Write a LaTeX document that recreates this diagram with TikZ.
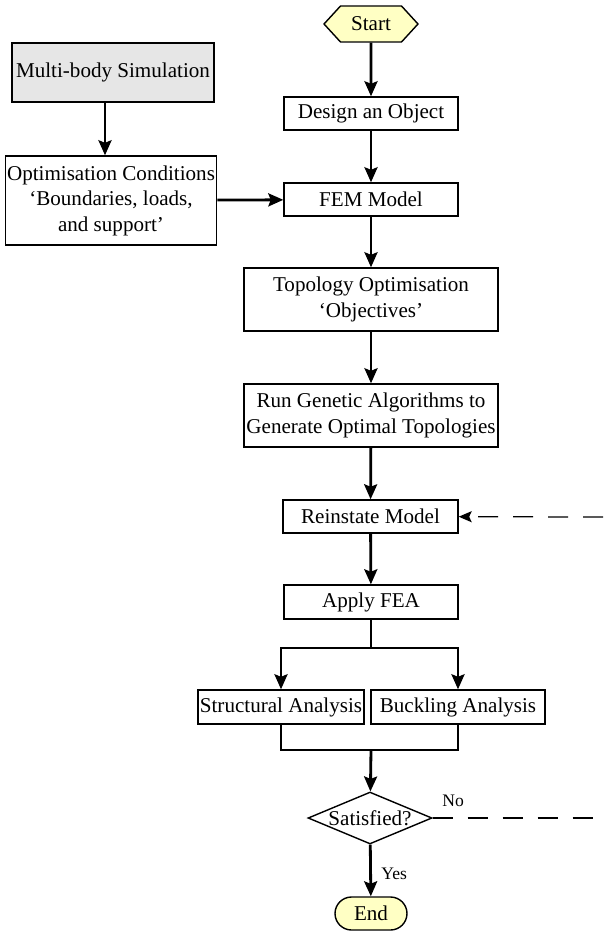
\documentclass[tikz,border=0pt]{standalone}
\usepackage{fontspec}
\setmainfont{Liberation Serif}
\usetikzlibrary{arrows.meta,shapes.geometric,shapes.symbols}

\definecolor{termfill}{RGB}{255,255,196}
\definecolor{simfill}{RGB}{230,230,230}

\tikzset{
  stepbox/.style={draw, line width=.8pt, inner sep=1pt, align=center,
    font=\fontsize{12}{14.5}\selectfont},
  flow/.style={->, line width=1.6pt},
  loopback/.style={line width=.7pt, dash pattern=on .4cm off .3cm},
}

\begin{document}
\begin{tikzpicture}[x=.02cm, y=-.02cm, >={Stealth[length=.3cm,width=.26cm,inset=.05cm]}]
  \useasboundingbox (0,0) rectangle (603,932);

  % terminals
  \node[stepbox, signal, signal to=west and east, signal pointer angle=95,
    fill=termfill, minimum width=1.88cm, minimum height=.72cm] (start) at (371,24) {Start};
  \node[stepbox, rounded corners=.33cm, fill=termfill,
    minimum width=1.44cm, minimum height=.66cm] (end) at (371,913.5) {End};

  % main column
  \node[stepbox, minimum width=3.48cm, minimum height=.66cm] (design) at (371,113.5) {Design an Object};
  \node[stepbox, minimum width=3.48cm, minimum height=.66cm] (fem) at (371,199.5) {FEM Model};
  \node[stepbox, minimum width=5.08cm, minimum height=1.26cm] (topo) at (371,299.5)
    {Topology Optimisation\\`Objectives'};
  \node[stepbox, minimum width=5.08cm, minimum height=1.26cm] (genetic) at (371,415.5)
    {Run Genetic Algorithms to\\Generate Optimal Topologies};
  \node[stepbox, minimum width=3.5cm, minimum height=.66cm] (reinstate) at (370.5,516.5) {Reinstate Model};
  \node[stepbox, minimum width=3.48cm, minimum height=.68cm] (fea) at (371,602) {Apply FEA};
  \node[stepbox, minimum width=3.24cm, minimum height=.68cm] (structural) at (281,707) {Structural Analysis};
  \node[stepbox, minimum width=3.48cm, minimum height=.68cm] (buckling) at (458,707) {Buckling Analysis};
  \node[stepbox, diamond, aspect=2.4, inner sep=0pt,
    minimum width=2.48cm, minimum height=1.04cm] (check) at (370,818) {Satisfied?};

  % side branch
  \node[stepbox, fill=simfill, minimum width=4.04cm, minimum height=1.18cm] (multibody) at (113,72.5) {Multi-body Simulation};
  \node[stepbox, minimum width=3.96cm, minimum height=1.78cm] (conditions) at (111,200.5)
    {Optimisation Conditions\\`Boundaries, loads,\\and support'};

  \coordinate (split) at (371,648);
  \coordinate (merge) at (371,750);
  \coordinate (simout) at (105,102);
  \coordinate (noout) at (603,818);
  \coordinate (noin) at (603,517);

  \draw[flow] (start) -- (design);
  \draw[flow] (design) -- (fem);
  \draw[flow] (fem) -- (topo);
  \draw[flow] (topo) -- (genetic);
  \draw[flow] (genetic) -- (reinstate);
  \draw[flow] (reinstate) -- (fea);
  \draw[flow] (fea) -- (split) -| (structural);
  \draw[flow] (split) -| (buckling);
  \draw[line width=1.6pt] (structural) |- (merge) -| (buckling);
  \draw[flow] (merge) -- (check);
  \draw[flow] (check) -- node[right, xshift=2pt, yshift=-2pt, font=\fontsize{10}{12}\selectfont] {Yes} (end);
  \draw[flow] (simout) -- (simout |- conditions.north);
  \draw[flow] (conditions) -- (fem);

  % loop back when not satisfied
  \draw[loopback] (check.east) -- node[pos=.12, above, yshift=3pt, font=\fontsize{10}{12}\selectfont] {No} (noout);
  \draw[loopback, -{Stealth[length=.26cm,width=.22cm,inset=.05cm]}] (noin) -- (reinstate);
\end{tikzpicture}
\end{document}
